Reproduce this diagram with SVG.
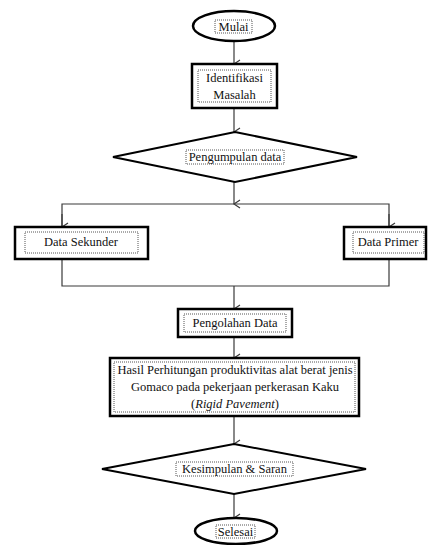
<svg xmlns="http://www.w3.org/2000/svg" width="428" height="545" viewBox="0 0 428 545">
<style>
.shape{fill:#fff;stroke:#000;stroke-width:2.5}
.dia{fill:#fff;stroke:#000;stroke-width:2}
.tb{fill:none;stroke:#555;stroke-width:1;stroke-dasharray:1,1}
.conn{fill:none;stroke:#3a3a3a;stroke-width:1.2}
text{font-family:"Liberation Serif","Times New Roman",serif;font-size:12.5px;fill:#111;text-anchor:middle}
</style>
<defs>
<marker id="arr" markerUnits="userSpaceOnUse" markerWidth="12" markerHeight="10" refX="5" refY="8" orient="auto-start-reverse" viewBox="0 0 10 10">
<path d="M1,2 L5,8 L9,2" fill="none" stroke="#3a3a3a" stroke-width="1.2"/>
</marker>
</defs>
<rect width="428" height="545" fill="#fff"/>
<g id="connectors">
<line class="conn" x1="234" y1="41" x2="234" y2="64" marker-end="url(#arr)"/>
<line class="conn" x1="234" y1="108" x2="234" y2="132" marker-end="url(#arr)"/>
<line class="conn" x1="234" y1="182" x2="234" y2="204" marker-end="url(#arr)"/>
<polyline class="conn" points="62,227 62,204 389,204 389,227"/>
<line class="conn" x1="62" y1="214" x2="62" y2="227" marker-end="url(#arr)"/>
<line class="conn" x1="389" y1="214" x2="389" y2="227" marker-end="url(#arr)"/>
<polyline class="conn" points="62,259 62,286 389,286 389,259"/>
<line class="conn" x1="234" y1="286" x2="234" y2="309" marker-end="url(#arr)"/>
<line class="conn" x1="234" y1="337" x2="234" y2="358" marker-end="url(#arr)"/>
<line class="conn" x1="234" y1="416" x2="234" y2="444" marker-end="url(#arr)"/>
<line class="conn" x1="234" y1="494" x2="234" y2="518" marker-end="url(#arr)"/>
</g>
<g id="mulai">
<ellipse class="shape" cx="234" cy="26" rx="41" ry="15"/>
<rect class="tb" x="215" y="20" width="37" height="13"/>
<text x="233.5" y="31">Mulai</text>
</g>
<g id="identifikasi">
<rect class="shape" x="192" y="64" width="85" height="44"/>
<rect class="tb" x="198" y="70" width="73" height="32"/>
<text x="234.5" y="82">Identifikasi</text>
<text x="234.5" y="99">Masalah</text>
</g>
<g id="pengumpulan">
<polygon class="dia" points="235,132 357,157 235,182 113,157"/>
<rect class="tb" x="186" y="150" width="98" height="14"/>
<text x="235" y="161">Pengumpulan data</text>
</g>
<g id="sekunder">
<rect class="shape" x="15" y="227" width="133" height="32"/>
<rect class="tb" x="25" y="232" width="113" height="21"/>
<text x="81" y="246">Data Sekunder</text>
</g>
<g id="primer">
<rect class="shape" x="344" y="227" width="82" height="32"/>
<rect class="tb" x="353" y="232" width="71" height="21"/>
<text x="388" y="246">Data Primer</text>
</g>
<g id="pengolahan">
<rect class="shape" x="178" y="309" width="114" height="28"/>
<rect class="tb" x="184" y="314" width="102" height="18"/>
<text x="235" y="327">Pengolahan Data</text>
</g>
<g id="hasil">
<rect class="shape" x="110" y="358" width="249" height="58"/>
<rect class="tb" x="114" y="362" width="241" height="50"/>
<text x="235" y="374">Hasil Perhitungan produktivitas alat berat jenis</text>
<text x="235" y="391">Gomaco pada pekerjaan perkerasan Kaku</text>
<text x="235" y="408">(<tspan font-style="italic">Rigid Pavement</tspan>)</text>
</g>
<g id="kesimpulan">
<polygon class="dia" points="234,444 366,469 234,494 102,469"/>
<rect class="tb" x="176" y="462" width="117" height="14"/>
<text x="234.5" y="473">Kesimpulan &amp; Saran</text>
</g>
<g id="selesai">
<ellipse class="shape" cx="236" cy="531" rx="41" ry="13"/>
<rect class="tb" x="216" y="525" width="39" height="13"/>
<text x="235.5" y="536">Selesai</text>
</g>
</svg>
